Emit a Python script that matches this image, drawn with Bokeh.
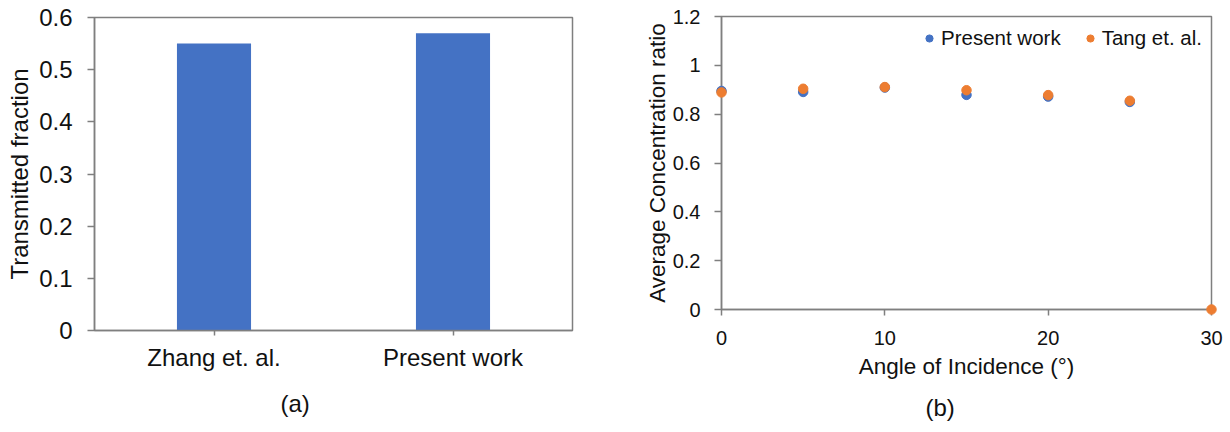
from bokeh.plotting import figure
from bokeh.models import FactorRange, Range1d, FixedTicker, Legend, LegendItem, Title
from bokeh.embed import file_html
from bokeh.resources import INLINE

# (a) transmitted fraction of the two designs
sources = ["Zhang et. al.", "Present work"]
transmitted = [0.55, 0.57]
frac_ticks = [0, 0.1, 0.2, 0.3, 0.4, 0.5, 0.6]
frac_labels = ["0", "0.1", "0.2", "0.3", "0.4", "0.5", "0.6"]

# (b) average concentration ratio versus angle of incidence
present_angles = [0, 5, 10, 15, 20, 25]
present_ratio = [0.895, 0.891, 0.909, 0.879, 0.872, 0.850]
tang_angles = [0, 5, 10, 15, 20, 25, 30]
tang_ratio = [0.889, 0.904, 0.911, 0.898, 0.878, 0.855, 0.0]
ratio_ticks = [0, 0.2, 0.4, 0.6, 0.8, 1.0, 1.2]
ratio_labels = ["0", "0.2", "0.4", "0.6", "0.8", "1", "1.2"]
angle_ticks = [0, 10, 20, 30]
angle_labels = ["0", "10", "20", "30"]

FONT = "Liberation Sans"
TEXT = "#111111"
LINE = "#7f7f7f"
BLUE = "#4472C4"
ORANGE = "#ED7D31"


def style_frame(p):
    p.grid.visible = False
    p.outline_line_color = LINE
    p.outline_line_width = 1.5
    p.background_fill_color = "white"
    p.border_fill_color = "white"


def style_axis(ax, size, tick_out, standoff):
    ax.axis_line_color = LINE
    ax.axis_line_width = 1.5
    ax.major_tick_line_color = LINE
    ax.major_tick_line_width = 1.5
    ax.major_tick_in = 0
    ax.major_tick_out = tick_out
    ax.minor_tick_line_color = None
    ax.major_label_text_font = FONT
    ax.major_label_text_font_size = size
    ax.major_label_text_color = TEXT
    ax.major_label_standoff = standoff
    ax.axis_label_text_font = FONT
    ax.axis_label_text_font_style = "normal"
    ax.axis_label_text_color = TEXT


def caption(text, offset, standoff):
    return Title(text=text, align="left", offset=offset, standoff=standoff,
                 text_font=FONT, text_font_size="24px",
                 text_font_style="normal", text_color=TEXT)


# ---- panel (a): bar chart ----
pa = figure(
    width=620, height=432,
    x_range=FactorRange(*sources), y_range=Range1d(0, 0.6),
    output_backend="svg", toolbar_location=None,
    min_border_left=94, min_border_right=48,
    min_border_top=17, min_border_bottom=102,
)
style_frame(pa)
pa.vbar(x=sources, top=transmitted, width=0.31,
        fill_color=BLUE, line_color=None)

style_axis(pa.xaxis[0], "24px", 5, 8)
style_axis(pa.yaxis[0], "24px", 7, 15)
pa.yaxis.ticker = FixedTicker(ticks=frac_ticks)
pa.yaxis.major_label_overrides = dict(zip(frac_ticks, frac_labels))
pa.yaxis.axis_label = "Transmitted fraction"
pa.yaxis.axis_label_text_font_size = "24px"
pa.yaxis.axis_label_standoff = 3
pa.add_layout(caption("(a)", 186, 29), "below")

# ---- panel (b): scatter comparison ----
pb = figure(
    width=610, height=432,
    x_range=Range1d(0, 30), y_range=Range1d(0, 1.2),
    output_backend="svg", toolbar_location=None,
    min_border_left=101, min_border_right=19,
    min_border_top=16, min_border_bottom=123,
)
style_frame(pb)

r_present = pb.scatter(present_angles, present_ratio, size=9.5,
                       color=BLUE, level="overlay")
r_tang = pb.scatter(tang_angles, tang_ratio, size=9.5,
                    color=ORANGE, level="overlay")

style_axis(pb.xaxis[0], "20px", 6, 15)
style_axis(pb.yaxis[0], "20px", 7, 14)
pb.xaxis.ticker = FixedTicker(ticks=angle_ticks)
pb.xaxis.major_label_overrides = dict(zip(angle_ticks, angle_labels))
pb.yaxis.ticker = FixedTicker(ticks=ratio_ticks)
pb.yaxis.major_label_overrides = dict(zip(ratio_ticks, ratio_labels))
pb.xaxis.axis_label = "Angle of Incidence (°)"
pb.xaxis.axis_label_text_font_size = "22.5px"
pb.xaxis.axis_label_standoff = 6
pb.yaxis.axis_label = "Average Concentration ratio"
pb.yaxis.axis_label_text_font_size = "22.5px"
pb.yaxis.axis_label_standoff = 0

legend = Legend(
    items=[LegendItem(label="Present work", renderers=[r_present]),
           LegendItem(label="Tang et. al.", renderers=[r_tang])],
    orientation="horizontal", location=(199, 259),
    margin=0, padding=0, spacing=20,
    glyph_width=18, glyph_height=18, label_standoff=3,
    label_height=24,
    label_text_font=FONT, label_text_font_size="20.5px",
    label_text_color=TEXT,
    background_fill_alpha=0, border_line_color=None,
)
pb.add_layout(legend)
pb.add_layout(caption("(b)", 204, 20), "below")

# the two panels are separate roots placed side by side, so each keeps
# its own plot-frame geometry
pa.styles = {"position": "absolute", "left": "0px", "top": "0px"}
pb.styles = {"position": "absolute", "left": "620px", "top": "0px"}

open("out.html", "w").write(file_html([pa, pb], INLINE))
